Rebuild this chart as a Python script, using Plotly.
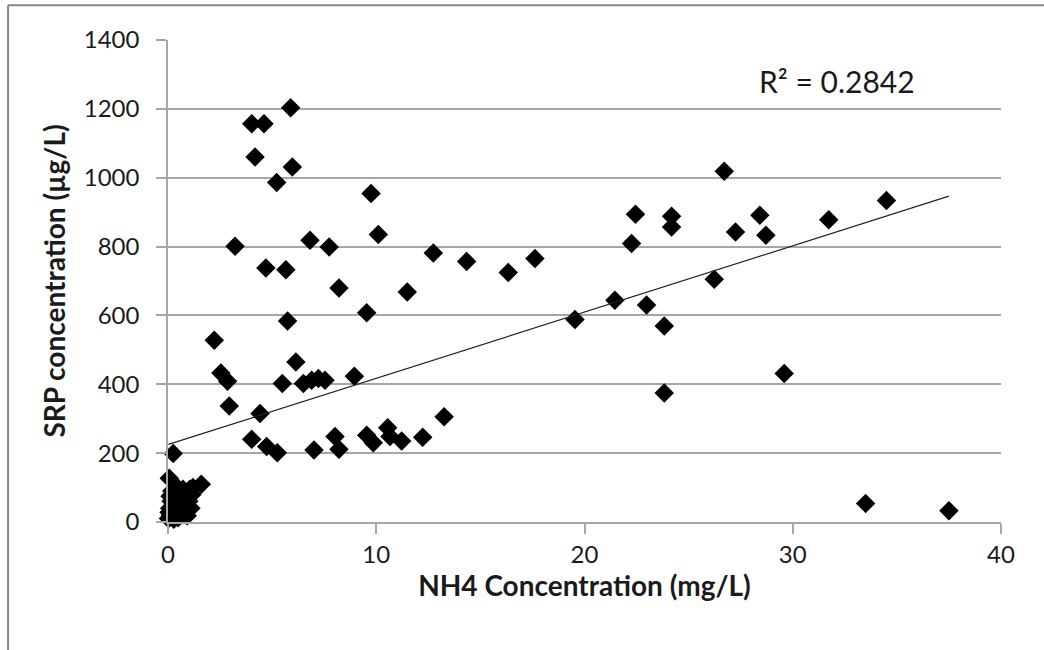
import numpy as np
import plotly.graph_objects as go

# NH4 concentration (mg/L) -- scattered points
nh4_main = [
    5.89, 4.02, 4.61, 4.18, 5.97, 5.22, 3.22, 6.82, 7.74, 4.70, 5.66,
    8.21, 5.74, 2.22, 6.14, 2.54, 2.86, 5.49, 6.50, 6.90, 7.22, 7.54, 8.95,
    2.94, 4.42, 4.02, 4.74, 5.25, 7.01, 8.02, 8.21, 0.25,
    9.75, 10.1, 12.74, 14.34, 16.34, 17.62, 11.49, 9.54, 13.26,
    9.54, 9.86, 10.55, 10.66, 11.22, 12.23,
    26.71, 22.45, 24.18, 24.18, 28.42, 27.25, 28.71, 22.26, 26.23,
    21.46, 22.98, 19.54, 23.83, 29.59, 23.83,
    31.73, 34.5, 33.5, 37.5,
]
# SRP concentration (ug/L) -- scattered points
srp_main = [
    1203, 1157, 1157, 1060, 1031, 986, 801, 818, 799, 738, 733,
    680, 584, 528, 465, 433, 409, 402, 402, 412, 417, 412, 423,
    337, 315, 240, 219, 201, 209, 248, 211, 199,
    954, 835, 781, 757, 725, 765, 668, 608, 306,
    252, 230, 274, 248, 235, 246,
    1019, 894, 888, 857, 891, 842, 833, 809, 705,
    644, 630, 588, 569, 431, 375,
    878, 934, 54, 33,
]
# dense, overlapping cluster of low values near the origin
nh4_cluster = [
    0.06, 1.6, 0.05, 0.1, 0.3, 0.3, 0.5, 0.55, 0.7, 0.8, 0.9, 1.05, 1.2,
    0.02, 0.08, 0.12, 0.15, 0.18, 0.2, 0.25, 0.28, 0.35, 0.38,
    0.4, 0.42, 0.45, 0.48, 0.52, 0.58, 0.62, 0.65, 0.68, 0.72,
    0.75, 0.78, 0.85, 0.88, 0.92, 0.95, 1.0, 1.1, 1.15,
]
srp_cluster = [
    127, 110, 28, 75, 50, 15, 65, 35, 85, 25, 60, 95, 100,
    10, 40, 20, 60, 90, 30, 70, 8, 45, 80,
    22, 55, 100, 12, 75, 48, 20, 62, 40, 95,
    55, 30, 78, 45, 18, 85, 60, 40, 80,
]
r2_label = "R\u00b2 = 0.2842"
x_ticks = [0, 10, 20, 30, 40]
y_ticks = [0, 200, 400, 600, 800, 1000, 1200, 1400]

x = np.array(nh4_main + nh4_cluster, dtype=float)
y = np.array(srp_main + srp_cluster, dtype=float)
slope, intercept = np.polyfit(x, y, 1)
tx = np.array([x.min(), x.max()])
ty = intercept + slope * tx

FONT = "Lato"
GRID = "#a6a6a6"

fig = go.Figure()
fig.add_trace(go.Scatter(
    x=x, y=y, mode="markers", cliponaxis=False,
    marker=dict(symbol="diamond", size=15, color="black", line=dict(width=0)),
    showlegend=False, hoverinfo="x+y",
))
fig.add_trace(go.Scatter(
    x=tx, y=ty, mode="lines",
    line=dict(color="#222222", width=1.2),
    showlegend=False, hoverinfo="skip",
))

fig.add_annotation(
    x=28.3, y=1280, xref="x", yref="y", text=r2_label, showarrow=False,
    xanchor="left", yanchor="middle",
    font=dict(family=FONT, size=30, color="#1a1a1a"),
)

# outer chart border (left and top)
fig.add_shape(type="line", xref="paper", yref="paper",
              x0=-0.192, x1=-0.192, y0=1.072, y1=-0.35,
              line=dict(color="#868686", width=2))
fig.add_shape(type="line", xref="paper", yref="paper",
              x0=-0.192, x1=1.1, y0=1.072, y1=1.072,
              line=dict(color="#868686", width=2))

fig.update_layout(
    width=1044, height=650,
    margin=dict(l=168, r=43, t=40, b=128),
    paper_bgcolor="white", plot_bgcolor="white",
    font=dict(family=FONT, size=24, color="#1a1a1a"),
    xaxis=dict(
        range=[0, 40], tickvals=x_ticks, ticktext=[str(v) for v in x_ticks],
        showgrid=False, zeroline=False,
        showline=True, linecolor=GRID, linewidth=1.5,
        ticks="outside", ticklen=10, tickcolor=GRID, tickwidth=1.5,
        tickfont=dict(family=FONT, size=24, color="#1a1a1a"),
        title=dict(text="<b>NH4 Concentration (mg/L)</b>", standoff=6,
                   font=dict(family=FONT, size=28, color="#1a1a1a")),
    ),
    yaxis=dict(
        range=[0, 1400], tickvals=y_ticks, ticktext=[str(v) for v in y_ticks],
        showgrid=True, gridcolor=GRID, gridwidth=1.5, zeroline=False,
        showline=True, linecolor=GRID, linewidth=1.5,
        ticks="outside", ticklen=10, tickcolor=GRID, tickwidth=1.5,
        ticklabelstandoff=12,
        tickfont=dict(family=FONT, size=24, color="#1a1a1a"),
        title=dict(text="<b>SRP concentration (\u00b5g/L)</b>", standoff=10,
                   font=dict(family=FONT, size=28, color="#1a1a1a")),
    ),
)

fig.write_html("out.html")
